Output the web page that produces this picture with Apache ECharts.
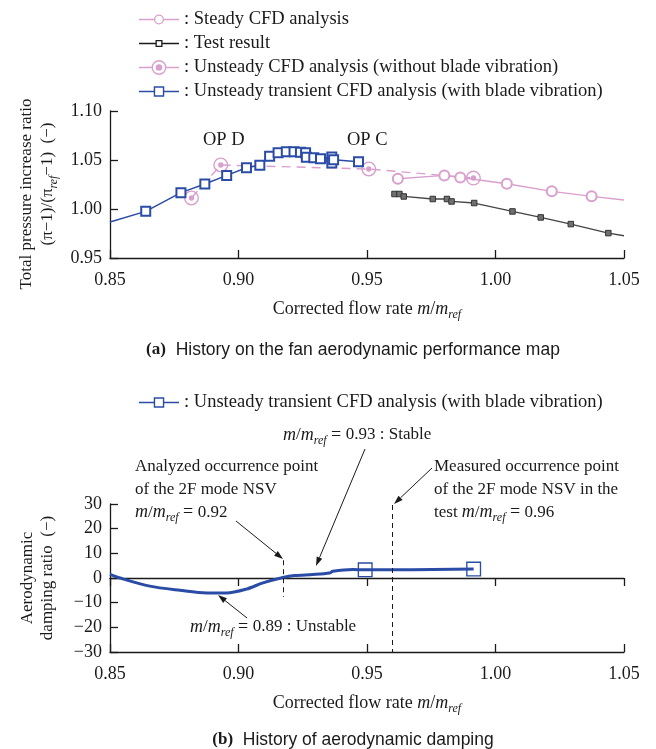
<!DOCTYPE html>
<html>
<head>
<meta charset="utf-8">
<script src="https://cdn.jsdelivr.net/npm/echarts@6.0.0/dist/echarts.min.js"></script>
<style>
  html, body { margin: 0; padding: 0; background: #fff; }
  #chart { width: 656px; height: 749px; }
</style>
</head>
<body>
<div id="chart"></div>
<script>
// ---- values ----
const flowTicks = [0.85, 0.90, 0.95, 1.00, 1.05];
const ratioTicks = [0.95, 1.00, 1.05, 1.10];
const dampTicks = [-30, -20, -10, 0, 10, 20, 30];

const seriesNames = [
  'Steady CFD analysis',
  'Test result',
  'Unsteady CFD analysis (without blade vibration)',
  'Unsteady transient CFD analysis (with blade vibration)'
];

// (a) performance map
const steadyX = [0.9620, 0.9801, 0.9863, 1.0044, 1.0219, 1.0374, 1.0500];
const steadyY = [1.0309, 1.0343, 1.0322, 1.0258, 1.0180, 1.0129, 1.0092];

const testX = [0.9607, 0.9626, 0.9643, 0.9756, 0.9811, 0.9829, 0.9917, 1.0066, 1.0176, 1.0293, 1.0439, 1.0500];
const testY = [1.0153, 1.0153, 1.0128, 1.0102, 1.0102, 1.0077, 1.0061, 0.9975, 0.9914, 0.9846, 0.9754, 0.9727];

const unsteadyX = [0.8817, 0.8931, 0.9507, 0.9914];
const unsteadyY = [1.0112, 1.0449, 1.0408, 1.0316];

const transientX = [0.8500, 0.8639, 0.8776, 0.8869, 0.8954, 0.9031, 0.9083, 0.9121, 0.9154, 0.9186, 0.9216,
                    0.9241, 0.9261, 0.9264, 0.9293, 0.9319, 0.9363, 0.9363, 0.9370, 0.9467];
const transientY = [0.9867, 0.9976, 1.0167, 1.0255, 1.0343, 1.0421, 1.0447, 1.0539, 1.0574, 1.0585, 1.0585,
                    1.0580, 1.0574, 1.0529, 1.0523, 1.0513, 1.0531, 1.0469, 1.0503, 1.0483];

const opLabels = ['OP D', 'OP C'];

// (b) aerodynamic damping
const dampX = [0.8500, 0.8539, 0.8655, 0.8772, 0.8876, 0.8953, 0.9031, 0.9095, 0.9173, 0.9218, 0.9289,
               0.9354, 0.9367, 0.9445, 0.9493, 0.9915];
const dampY = [1.5, 0.0, -3.3, -5.0, -6.1, -6.1, -4.5, -2.0, 0.2, 1.0, 1.4, 2.0, 2.7, 3.4, 3.3, 3.6];
const dampMarkX = [0.9493, 0.9915];

const nsvAnalyzed = [0.9175, 7.2, -7.7];   // x, dashed from .. to
const nsvMeasured = [0.9600, 29.6, -30];

// ---- styling ----
const SERIF = 'Liberation Serif';
const SANS = 'Liberation Sans';
const INK = '#1a1a1a';
const PINK = '#d99fcd';
const BLUE = '#2a4ca6';
const GREY = '#454545';
const MREF = '{i|m}/{i|m}{s|ref}{e| = }';

const rich = {
  i: { fontFamily: SERIF, fontSize: 18, fontStyle: 'italic', lineHeight: 23, color: INK, fill: INK },
  s: { fontFamily: SERIF, fontSize: 12, fontStyle: 'italic', lineHeight: 12, verticalAlign: 'bottom', color: INK, fill: INK },
  e: { fontFamily: SERIF, fontSize: 18, lineHeight: 23, color: INK, fill: INK },
  b: { fontFamily: SERIF, fontSize: 17, fontWeight: 'bold', color: INK, fill: INK }
};

// hollow shapes as one filled path (holes by opposite winding)
function ring(cx, cy, ro, ri) {
  return `M${cx} ${cy - ro}A${ro} ${ro} 0 1 1 ${cx} ${cy + ro}A${ro} ${ro} 0 1 1 ${cx} ${cy - ro}Z` +
         `M${cx} ${cy - ri}A${ri} ${ri} 0 1 0 ${cx} ${cy + ri}A${ri} ${ri} 0 1 0 ${cx} ${cy - ri}Z`;
}
function disc(cx, cy, r) {
  return `M${cx} ${cy - r}A${r} ${r} 0 1 1 ${cx} ${cy + r}A${r} ${r} 0 1 1 ${cx} ${cy - r}Z`;
}
function box(cx, cy, so, si) {
  const a = so / 2, b = si / 2;
  return `M${cx - a} ${cy - a}L${cx + a} ${cy - a}L${cx + a} ${cy + a}L${cx - a} ${cy + a}Z` +
         `M${cx - b} ${cy - b}L${cx - b} ${cy + b}L${cx + b} ${cy + b}L${cx + b} ${cy - b}Z`;
}
function bar(x0, x1, t) {
  return `M${x0} ${-t / 2}L${x1} ${-t / 2}L${x1} ${t / 2}L${x0} ${t / 2}Z`;
}
function legendIcon(markPath, half) {
  return 'path://' + bar(0, 20 - half, 1.4) + bar(20 + half, 40, 1.4) + markPath;
}

const icons = [
  legendIcon(ring(20, 0, 5, 3.7), 5),
  legendIcon(box(20, 0, 7, 4.4), 3.5),
  legendIcon(ring(20, 0, 7.5, 6.1) + disc(20, 0, 3.3), 7.5),
  legendIcon(box(20, 0, 10.5, 7.7), 5.25)
];
const iconColors = [PINK, INK, PINK, BLUE];

const ringDot = 'path://' + ring(0, 0, 10, 8.2) + disc(0, 0, 3.6);
const hollowBox = 'path://' + box(0, 0, 10, 8.2);

function pts(xs, ys) {
  return xs.map((x, k) => {
    const p = { value: [x, ys[k]] };
    if (x <= flowTicks[0] || x >= flowTicks[flowTicks.length - 1]) p.symbol = 'none';
    return p;
  });
}
function dampPts() {
  return dampX.map((x, k) => {
    const p = { value: [x, dampY[k]] };
    if (dampMarkX.indexOf(x) < 0) p.symbol = 'none';
    return p;
  });
}

function arrow(x1, y1, x2, y2) {
  const a = Math.atan2(y2 - y1, x2 - x1), L = 9, W = 3;
  const bx = x2 - L * Math.cos(a), by = y2 - L * Math.sin(a);
  const nx = -Math.sin(a) * W, ny = Math.cos(a) * W;
  return [
    { type: 'line', silent: true, shape: { x1: x1, y1: y1, x2: bx, y2: by }, style: { stroke: INK, lineWidth: 1 } },
    { type: 'polygon', silent: true, shape: { points: [[x2, y2], [bx + nx, by + ny], [bx - nx, by - ny]] }, style: { fill: INK } }
  ];
}
function label(text, x, y, opts) {
  return Object.assign({
    type: 'text', x: x, y: y, silent: true,
    style: Object.assign({
      text: text, rich: rich, fill: INK, fontFamily: SERIF, fontSize: 17, lineHeight: 23,
      align: 'left', verticalAlign: 'middle', textAlign: 'left', textVerticalAlign: 'middle'
    }, opts && opts.style)
  }, opts && opts.el);
}

const fmt2 = v => v.toFixed(2);
const fmtMinus = v => String(v).replace('-', '\u2212');

function xAxisBase(grid) {
  return {
    type: 'value', gridIndex: grid,
    min: flowTicks[0], max: flowTicks[flowTicks.length - 1], interval: 0.05,
    axisLine: { show: true, onZero: false, lineStyle: { color: INK, width: 1.3 } },
    axisTick: { show: true, inside: true, length: 8, lineStyle: { color: INK, width: 1.3 } },
    axisLabel: { formatter: fmt2, margin: 13, fontFamily: SERIF, fontSize: 18, color: INK },
    splitLine: { show: false },
    name: 'Corrected flow rate {i|m}/{i|m}{s|ref}', nameLocation: 'middle', nameGap: 40,
    nameTextStyle: { fontFamily: SERIF, fontSize: 18, color: INK, lineHeight: 23, rich: rich }
  };
}

const legendText = { fontFamily: SERIF, fontSize: 18.5, color: INK, lineHeight: 17 };

const option = {
  animation: false,
  backgroundColor: '#fff',
  grid: [
    { left: 110, right: 32, top: 111, height: 147, outerBoundsMode: 'none', containLabel: false },
    { left: 110, right: 32, top: 504, height: 148, outerBoundsMode: 'none', containLabel: false }
  ],
  legend: [
    {
      orient: 'vertical', left: 134, top: 5, padding: 5, itemWidth: 40, itemHeight: 17, itemGap: 5,
      selectedMode: false, align: 'left',
      textStyle: legendText,
      formatter: n => ': ' + n,
      data: seriesNames.map((n, k) => ({ name: n, icon: icons[k], itemStyle: { color: iconColors[k], borderWidth: 0 } }))
    },
    {
      orient: 'vertical', left: 134, top: 388, padding: 5, itemWidth: 40, itemHeight: 17,
      selectedMode: false, align: 'left',
      textStyle: legendText,
      formatter: n => ': ' + n,
      data: [{ name: seriesNames[3], icon: icons[3], itemStyle: { color: BLUE, borderWidth: 0 } }]
    }
  ],
  xAxis: [
    xAxisBase(0),
    xAxisBase(1),
    Object.assign(xAxisBase(1), {
      name: '', axisLabel: { show: false },
      axisLine: { show: true, onZero: true, lineStyle: { color: INK, width: 1.3 } }
    })
  ],
  yAxis: [
    {
      type: 'value', gridIndex: 0,
      min: ratioTicks[0], max: ratioTicks[ratioTicks.length - 1], interval: 0.05,
      axisLine: { show: true, lineStyle: { color: INK, width: 1.3 } },
      axisTick: { show: true, inside: true, length: 8, lineStyle: { color: INK, width: 1.3 } },
      axisLabel: { formatter: fmt2, margin: 8, fontFamily: SERIF, fontSize: 18, color: INK },
      splitLine: { show: false }
    },
    {
      type: 'value', gridIndex: 1,
      min: dampTicks[0], max: dampTicks[dampTicks.length - 1], interval: 10,
      axisLine: { show: true, onZero: false, lineStyle: { color: INK, width: 1.3 } },
      axisTick: { show: true, inside: true, length: 8, lineStyle: { color: INK, width: 1.3 } },
      axisLabel: { formatter: fmtMinus, margin: 8, fontFamily: SERIF, fontSize: 18, color: INK },
      splitLine: { show: false }
    }
  ],
  series: [
    {
      name: seriesNames[0], type: 'line', xAxisIndex: 0, yAxisIndex: 0,
      data: pts(steadyX, steadyY),
      symbol: 'emptyCircle', symbolSize: 10,
      lineStyle: { color: PINK, width: 1.4 },
      itemStyle: { color: PINK, borderWidth: 1.3 },
      emphasis: { disabled: true }
    },
    {
      name: seriesNames[1], type: 'line', xAxisIndex: 0, yAxisIndex: 0,
      data: pts(testX, testY),
      symbol: 'rect', symbolSize: 5.5,
      lineStyle: { color: GREY, width: 1.3 },
      itemStyle: { color: '#707070', borderColor: '#333', borderWidth: 1 },
      emphasis: { disabled: true }
    },
    {
      name: seriesNames[2], type: 'line', xAxisIndex: 0, yAxisIndex: 0,
      data: pts(unsteadyX, unsteadyY),
      symbol: ringDot, symbolSize: 15,
      lineStyle: { color: PINK, width: 1.4, type: [9, 6] },
      itemStyle: { color: PINK, borderWidth: 0 },
      emphasis: { disabled: true }
    },
    {
      name: seriesNames[3], type: 'line', xAxisIndex: 0, yAxisIndex: 0,
      data: pts(transientX, transientY),
      symbol: 'emptyRect', symbolSize: 9,
      lineStyle: { color: BLUE, width: 1.5 },
      itemStyle: { color: BLUE, borderWidth: 1.5 },
      emphasis: { disabled: true }
    },
    {
      name: seriesNames[3], type: 'line', xAxisIndex: 1, yAxisIndex: 1,
      data: dampPts(),
      smooth: 0.3,
      symbol: hollowBox, symbolSize: 15,
      lineStyle: { color: BLUE, width: 3 },
      itemStyle: { color: BLUE, borderWidth: 0 },
      emphasis: { disabled: true },
      markLine: {
        silent: true, symbol: 'none', animation: false,
        label: { show: false },
        emphasis: { disabled: true },
        lineStyle: { color: INK, width: 1, type: [5, 4] },
        data: [
          [{ coord: [nsvAnalyzed[0], nsvAnalyzed[1]] }, { coord: [nsvAnalyzed[0], nsvAnalyzed[2]] }],
          [{ coord: [nsvMeasured[0], nsvMeasured[1]] }, { coord: [nsvMeasured[0], nsvMeasured[2]] }]
        ]
      }
    }
  ],
  graphic: [].concat(
    // y-axis titles
    label('Total pressure increase ratio', 27, 194, { el: { rotation: Math.PI / 2 }, style: { align: 'center', textAlign: 'center' } }),
    label('(\u03c0\u22121)/(\u03c0{s|ref}\u22121)  (\u2212)', 48, 184, { el: { rotation: Math.PI / 2 }, style: { align: 'center', textAlign: 'center' } }),
    label('Aerodynamic', 28, 578, { el: { rotation: Math.PI / 2 }, style: { align: 'center', textAlign: 'center' } }),
    label('damping ratio  (\u2212)', 48, 578, { el: { rotation: Math.PI / 2 }, style: { align: 'center', textAlign: 'center' } }),
    // operating points
    label(opLabels[0], 203, 140, { style: { fontSize: 18.5 } }),
    label(opLabels[1], 347, 140, { style: { fontSize: 18.5 } }),
    // damping annotations
    label('Analyzed occurrence point\nof the 2F mode NSV\n' + MREF + '0.92', 135, 455, { style: { verticalAlign: 'top', textVerticalAlign: 'top' } }),
    label(MREF + '0.93 : Stable', 283, 435),
    label('Measured occurrence point\nof the 2F mode NSV in the\ntest ' + MREF + '0.96', 434, 455, { style: { verticalAlign: 'top', textVerticalAlign: 'top' } }),
    label(MREF + '0.89 : Unstable', 190, 627),
    arrow(236, 521, 283, 559),
    arrow(365, 449, 316, 566),
    arrow(432, 468, 394, 504),
    arrow(247, 618, 218, 595),
    // captions
    label('{b|(a)}  History on the fan aerodynamic performance map', 353, 350,
      { style: { fontFamily: SANS, fontSize: 17.5, align: 'center', textAlign: 'center' } }),
    label('{b|(b)}  History of aerodynamic damping', 353, 740,
      { style: { fontFamily: SANS, fontSize: 17.5, align: 'center', textAlign: 'center' } })
  )
};

const chart = echarts.init(document.getElementById('chart'));
chart.setOption(option);
window.addEventListener('resize', function () { chart.resize(); });
</script>
</body>
</html>
